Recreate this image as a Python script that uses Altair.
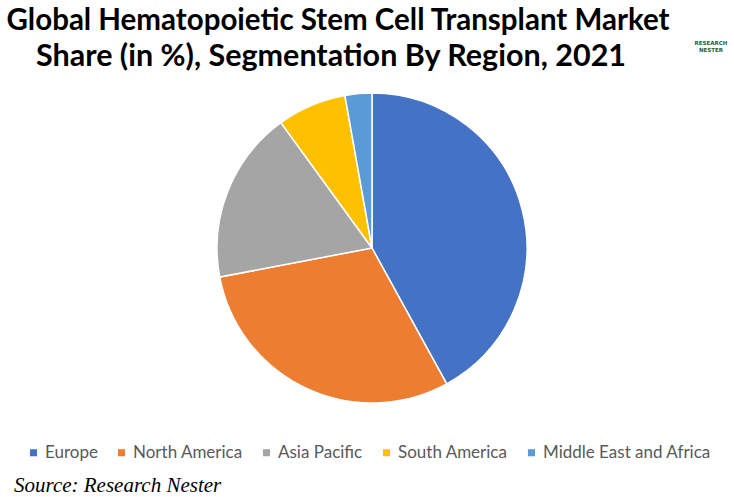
import altair as alt
import pandas as pd

regions = ["Europe", "North America", "Asia Pacific", "South America", "Middle East and Africa"]
shares = [42.0, 30.0, 18.0, 7.2, 2.8]
colors = ["#4472C4", "#ED7D31", "#A5A5A5", "#FFC000", "#5B9BD5"]
title_lines = ["Global Hematopoietic Stem Cell Transplant Market",
               "Share (in %), Segmentation By Region, 2021"]
source_text = "Source: Research Nester"
logo_lines = ["RESEARCH", "NESTER"]

df = pd.DataFrame({"region": regions, "share": shares, "idx": list(range(len(regions)))})

pie = alt.Chart(df).mark_arc(radius=155, stroke="white", strokeWidth=1.5).encode(
    theta=alt.Theta("share:Q", stack=True),
    order=alt.Order("idx:Q"),
    color=alt.Color(
        "region:N",
        scale=alt.Scale(domain=regions, range=colors),
        sort=regions,
        legend=alt.Legend(
            title=None,
            orient="none",
            legendX=25,
            legendY=444,
            direction="horizontal",
            symbolType="square",
            symbolSize=50,
            symbolStrokeWidth=0,
            labelFontSize=17,
            labelFont="Lato",
            labelColor="#595959",
            labelLimit=400,
            columnPadding=15,
            labelOffset=3,
        ),
    ),
    x=alt.value(372),
    y=alt.value(248),
)


def text_layer(txt, x, y, **kw):
    return alt.Chart(pd.DataFrame({"t": [txt]})).mark_text(**kw).encode(
        text="t:N", x=alt.value(x), y=alt.value(y)
    )


title1 = text_layer(title_lines[0], 338, 30, font="Lato", fontWeight="bold", fontSize=29.5,
                    color="#000000", align="center", baseline="alphabetic")
title2 = text_layer(title_lines[1], 331, 66, font="Lato", fontWeight="bold", fontSize=30.5,
                    color="#000000", align="center", baseline="alphabetic")
src = text_layer(source_text, 14, 492, font="Liberation Serif", fontStyle="italic", fontSize=21,
                 color="#000000", align="left", baseline="alphabetic")
logo1 = text_layer(logo_lines[0], 711, 45, font="DejaVu Sans", fontWeight="bold", fontSize=5.5,
                   color="#1F5F3A", align="center", baseline="alphabetic")
logo2 = text_layer(logo_lines[1], 711, 52, font="DejaVu Sans", fontWeight="bold", fontSize=5.5,
                   color="#1F5F3A", align="center", baseline="alphabetic")

chart = alt.layer(pie, title1, title2, src, logo1, logo2).properties(
    width=734, height=497, autosize=alt.AutoSizeParams(type="none"), padding=0, background="white"
).configure_view(stroke=None)

chart.save("out.html", embed_options={"renderer": "svg", "actions": False})
